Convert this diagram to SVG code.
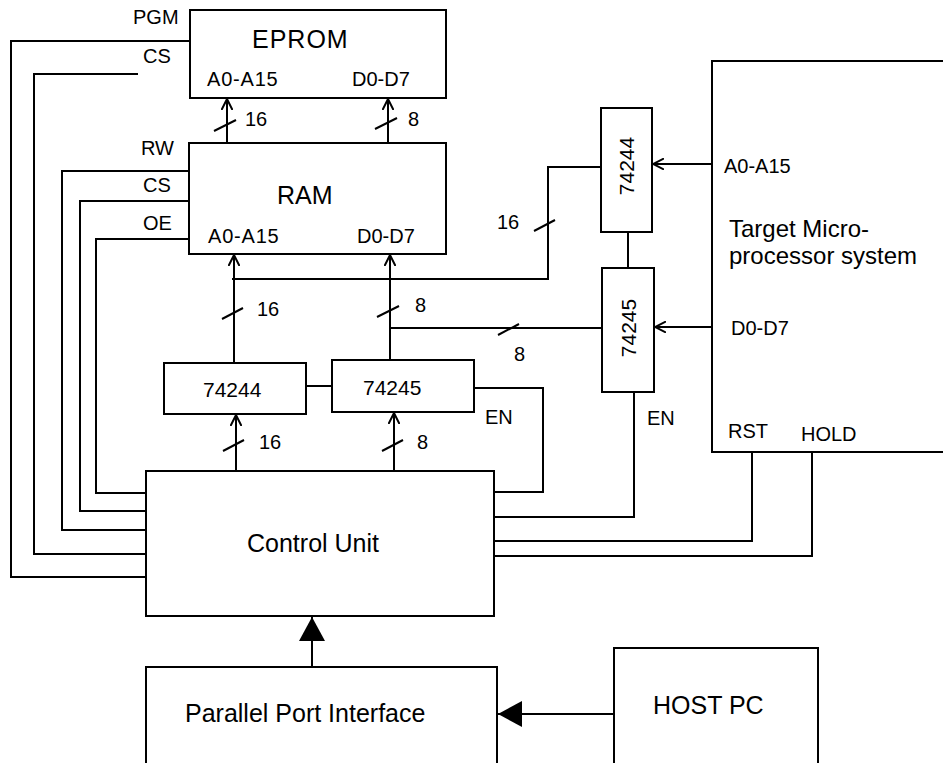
<svg xmlns="http://www.w3.org/2000/svg" width="943" height="763" viewBox="0 0 943 763">
<style>
.box{fill:#fff;stroke:#000;stroke-width:2}
.ln{fill:none;stroke:#000;stroke-width:2}
text{font-family:"Liberation Sans",Arial,sans-serif;fill:#000}
.big{font-size:25px}
.tgt{font-size:24px}
.sm{font-size:20px}
.chip{font-size:21px}
</style>
<defs>
<marker id="open" viewBox="0 0 12 12" refX="11" refY="6" markerWidth="12" markerHeight="12" markerUnits="userSpaceOnUse" orient="auto">
<path d="M0,0.5 L11,6 L0,11.5" fill="none" stroke="#000" stroke-width="2"/>
</marker>
<marker id="solid" viewBox="0 0 24 26" refX="24" refY="13" markerWidth="24" markerHeight="26" markerUnits="userSpaceOnUse" orient="auto">
<path d="M0,0 L24,13 L0,26 z" fill="#000"/>
</marker>
</defs>
<rect width="943" height="763" fill="#fff"/>
<g id="connectors">
<polyline class="ln" points="190,41 11,41 11,577 146,577"/>
<polyline class="ln" points="138,74 34,74 34,554 146,554"/>
<polyline class="ln" points="189,171 62,171 62,530 146,530"/>
<polyline class="ln" points="189,201 80,201 80,511 146,511"/>
<polyline class="ln" points="189,239 96,239 96,493 146,493"/>
<line class="ln" x1="227" y1="143" x2="227" y2="99" marker-end="url(#open)"/>
<line class="ln" x1="214" y1="131" x2="236" y2="120"/>
<line class="ln" x1="388" y1="143" x2="388" y2="99" marker-end="url(#open)"/>
<line class="ln" x1="375" y1="129" x2="397" y2="118"/>
<line class="ln" x1="234" y1="363" x2="234" y2="255" marker-end="url(#open)"/>
<line class="ln" x1="222" y1="319" x2="243" y2="308"/>
<line class="ln" x1="390" y1="360" x2="390" y2="255" marker-end="url(#open)"/>
<line class="ln" x1="377" y1="317" x2="399" y2="306"/>
<polyline class="ln" points="232,279 548,279 548,167 601,167"/>
<line class="ln" x1="534" y1="231" x2="555" y2="220"/>
<line class="ln" x1="712" y1="164" x2="653" y2="164" marker-end="url(#open)"/>
<line class="ln" x1="628" y1="232" x2="628" y2="268"/>
<line class="ln" x1="712" y1="327" x2="655" y2="327" marker-end="url(#open)"/>
<line class="ln" x1="390" y1="328" x2="602" y2="328"/>
<line class="ln" x1="498" y1="335" x2="519" y2="324"/>
<polyline class="ln" points="634,392 634,517 494,517"/>
<line class="ln" x1="236" y1="471" x2="236" y2="415" marker-end="url(#open)"/>
<line class="ln" x1="223" y1="451" x2="244" y2="440"/>
<line class="ln" x1="394" y1="471" x2="394" y2="413" marker-end="url(#open)"/>
<line class="ln" x1="382" y1="451" x2="403" y2="440"/>
<line class="ln" x1="306" y1="386" x2="332" y2="386"/>
<polyline class="ln" points="474,388 543,388 543,492 494,492"/>
<polyline class="ln" points="752,452 752,541 494,541"/>
<polyline class="ln" points="812,452 812,556 494,556"/>
<line class="ln" x1="312" y1="667" x2="312" y2="617" marker-end="url(#solid)"/>
<line class="ln" x1="614" y1="714" x2="498" y2="714" marker-end="url(#solid)"/>
</g>
<g id="eprom">
<rect class="box" x="190" y="10" width="256" height="88"/>
<text class="big" x="252" y="48" letter-spacing="1">EPROM</text>
<text class="sm" x="207" y="86" letter-spacing="0.8">A0-A15</text>
<text class="sm" x="352" y="86">D0-D7</text>
<text class="sm" x="133" y="24">PGM</text>
<text class="sm" x="143" y="63">CS</text>
</g>
<g id="ram">
<rect class="box" x="189" y="143" width="257" height="111"/>
<text class="big" x="277" y="204">RAM</text>
<text class="sm" x="208" y="243" letter-spacing="0.8">A0-A15</text>
<text class="sm" x="357" y="243">D0-D7</text>
<text class="sm" x="141" y="155">RW</text>
<text class="sm" x="143" y="192">CS</text>
<text class="sm" x="143" y="230">OE</text>
</g>
<g id="labels">
<text class="sm" x="245" y="126">16</text>
<text class="sm" x="408" y="126">8</text>
<text class="sm" x="257" y="316">16</text>
<text class="sm" x="415" y="312">8</text>
<text class="sm" x="497" y="229">16</text>
<text class="sm" x="514" y="361">8</text>
<text class="sm" x="259" y="449">16</text>
<text class="sm" x="417" y="449">8</text>
<text class="sm" x="485" y="424">EN</text>
<text class="sm" x="647" y="425">EN</text>
</g>
<g id="buf-74244-v">
<rect class="box" x="601" y="108" width="51" height="124"/>
<text class="chip" x="0" y="0" text-anchor="middle" dominant-baseline="central" transform="translate(626,166) rotate(-90)">74244</text>
</g>
<g id="buf-74245-v">
<rect class="box" x="602" y="268" width="52" height="124"/>
<text class="chip" x="0" y="0" text-anchor="middle" dominant-baseline="central" transform="translate(628,328) rotate(-90)">74245</text>
</g>
<g id="buf-74244-h">
<rect class="box" x="164" y="363" width="142" height="51"/>
<text class="chip" x="203" y="397">74244</text>
</g>
<g id="buf-74245-h">
<rect class="box" x="332" y="360" width="142" height="52"/>
<text class="chip" x="363" y="395">74245</text>
</g>
<g id="target">
<rect class="box" x="712" y="61" width="260" height="391"/>
<text class="sm" x="724" y="173">A0-A15</text>
<text class="tgt" x="729" y="237">Target Micro-</text>
<text class="tgt" x="729" y="264">processor system</text>
<text class="sm" x="731" y="335">D0-D7</text>
<text class="sm" x="728" y="438">RST</text>
<text class="sm" x="801" y="441">HOLD</text>
</g>
<g id="control-unit">
<rect class="box" x="146" y="471" width="348" height="145"/>
<text class="big" x="247" y="552">Control Unit</text>
</g>
<g id="parallel-port">
<rect class="box" x="146" y="667" width="351" height="140"/>
<text class="big" x="185" y="722">Parallel Port Interface</text>
</g>
<g id="host-pc">
<rect class="box" x="614" y="648" width="204" height="160"/>
<text class="big" x="653" y="714">HOST PC</text>
</g>
</svg>
